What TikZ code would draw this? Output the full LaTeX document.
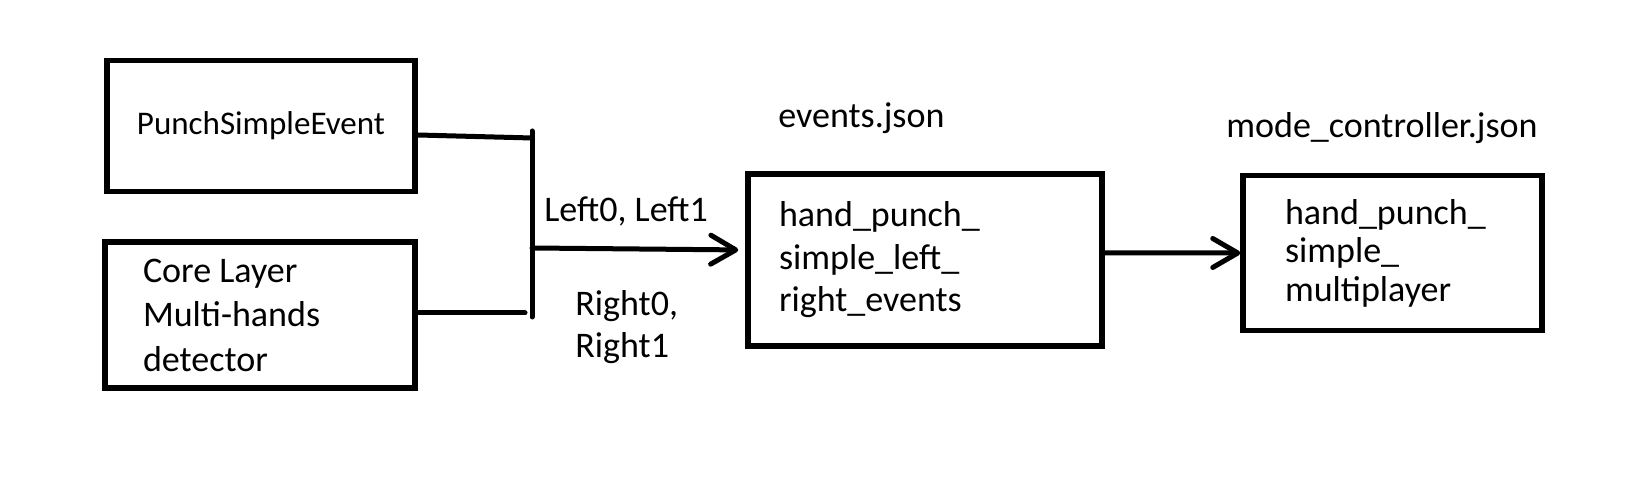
\documentclass[tikz,border=0pt]{standalone}
\usepackage{fontspec}
\setmainfont{Carlito}
\usetikzlibrary{calc,arrows.meta}
\def\txtA{\fontsize{20.5}{25.3}\selectfont}
\def\txtB{\fontsize{20.5}{24.2}\selectfont}
\def\txtC{\fontsize{20.5}{21.9}\selectfont}
\tikzset{
	blk/.style={draw, line width=0.11cm, inner ysep=0pt},
	lbl/.style={inner sep=0pt, anchor=base west},
	wire/.style={line width=0.1cm, line cap=round},
	>={Straight Barb[length=0.5cm, width=0.58cm, round]},
}

\begin{document}
\begin{tikzpicture}
			%%%%% START %%%%%
			
			\useasboundingbox (0, 0) rectangle (32.8, 9.62);
			
			\node[blk, minimum width=6.16cm, minimum height=2.62cm, font=\fontsize{18.8}{22}\selectfont] (punch) at (5.22, 7.10) {PunchSimpleEvent};
			\node[blk, minimum height=2.92cm, text width=4.68cm, inner xsep=0.76cm, align=flush left, font=\txtA] (core) at (5.20, 3.32) {Core Layer\\Multi-hands\\detector};
			
			\node[blk, minimum height=3.44cm, text width=5.84cm, inner xsep=0.62cm, align=flush left, font=\txtB] (events) at (18.50, 4.42) {hand\_punch\_\\simple\_left\_\\right\_events};
			\node[blk, minimum height=3.10cm, text width=4.30cm, inner xsep=0.84cm, align=flush left, font=\txtC] (mode) at (27.85, 4.56) {hand\_punch\_\\simple\_\\multiplayer\par\vspace{0.48cm}};
			
			\node[lbl, font=\txtA] (eventsfile) at (15.56, 7.06) {events.json};
			\node[lbl, font=\txtA] (modefile) at (24.52, 6.86) {mode\_controller.json};
			\node[lbl, font=\txtA] (lefts) at (10.88, 5.18) {Left0, Left1};
			\node[lbl, align=flush left, font=\fontsize{20.5}{23.9}\selectfont] (rights) at (11.50, 2.46) {Right0,\\Right1};
			
			% bus
			\coordinate (bartop) at (10.64, 7.00);
			\coordinate (barbot) at (10.64, 3.28);
			\coordinate (joinA) at (10.64, 6.86);
			\coordinate (joinB) at (10.50, 3.36);
			\coordinate (joinC) at (10.64, 4.66);
			
			\draw[wire] ($(punch.east)+(0,-0.18)$) -- (joinA);
			\draw[wire] (core.east |- joinB) -- (joinB);
			\draw[wire] (bartop) -- (barbot);
			
			\draw[wire, ->, shorten >=0.14cm] (joinC) -- ($(events.west)+(0,0.2)$);
			\draw[wire, ->] ($(events.east)+(0,0.14)$) -- (mode.west);
			
			%%%%% END %%%%%
		\end{tikzpicture}
\end{document}
